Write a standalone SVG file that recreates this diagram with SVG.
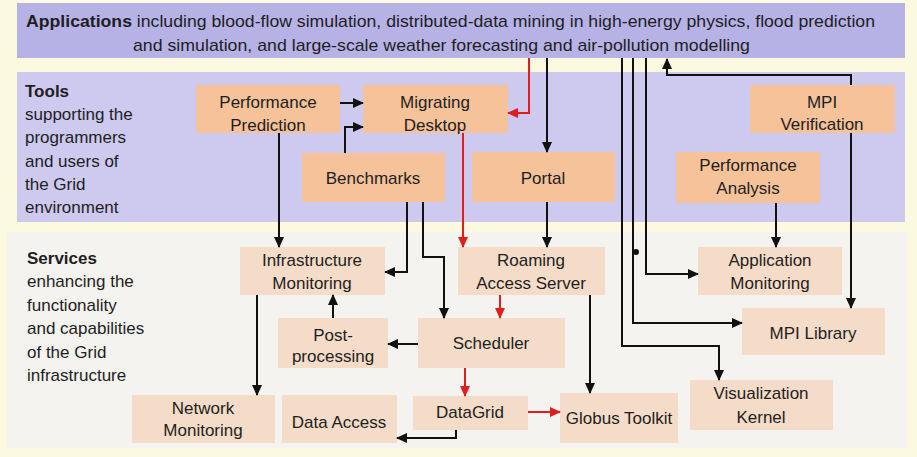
<svg xmlns="http://www.w3.org/2000/svg" width="917" height="457" viewBox="0 0 917 457">
<defs>
<style>
text{font-family:"Liberation Sans",Arial,sans-serif;font-size:17px;fill:#1e1e1e}
.c{text-anchor:middle}
.b{font-weight:bold}
.tn{fill:#f6c29a}
.sn{fill:#f5dcc8}
.k{fill:none;stroke:#111;stroke-width:2;marker-end:url(#ak)}
.r{fill:none;stroke:#e01e1e;stroke-width:2;marker-end:url(#ar)}
</style>
<marker id="ak" markerUnits="userSpaceOnUse" markerWidth="12" markerHeight="10" refX="10" refY="5" orient="auto"><path d="M0,0 L11,5 L0,10 z" fill="#111"/></marker>
<marker id="ar" markerUnits="userSpaceOnUse" markerWidth="12" markerHeight="10" refX="10" refY="5" orient="auto"><path d="M0,0 L11,5 L0,10 z" fill="#e01e1e"/></marker>
</defs>
<rect width="917" height="457" fill="#fbf9e0"/>
<rect x="7" y="232" width="900" height="216" fill="#f4f3f0"/>
<rect x="17" y="3" width="888" height="55" fill="#b7b2e6"/>
<rect x="17" y="72" width="888" height="150" fill="#cdc9ef"/>
<g id="band-text">
<text x="26" y="27" textLength="849" lengthAdjust="spacingAndGlyphs"><tspan class="b">Applications</tspan> including blood-flow simulation, distributed-data mining in high-energy physics, flood prediction</text>
<text x="133" y="51" textLength="617" lengthAdjust="spacingAndGlyphs">and simulation, and large-scale weather forecasting and air-pollution modelling</text>
<text x="25" y="97" class="b">Tools</text>
<text x="25" y="120">supporting the</text>
<text x="25" y="143">programmers</text>
<text x="25" y="167">and users of</text>
<text x="25" y="190">the Grid</text>
<text x="25" y="213">environment</text>
<text x="27" y="264" class="b">Services</text>
<text x="27" y="287">enhancing the</text>
<text x="27" y="311">functionality</text>
<text x="27" y="334">and capabilities</text>
<text x="27" y="358">of the Grid</text>
<text x="27" y="381">infrastructure</text>
</g>
<g id="performance-prediction"><rect class="tn" x="196" y="85" width="144" height="48"/><text class="c" x="268" y="108">Performance</text><text class="c" x="268" y="131">Prediction</text></g>
<g id="migrating-desktop"><rect class="tn" x="363" y="85" width="145" height="48"/><text class="c" x="435" y="108">Migrating</text><text class="c" x="435" y="131">Desktop</text></g>
<g id="benchmarks"><rect class="tn" x="302" y="153" width="143" height="49"/><text class="c" x="373" y="184">Benchmarks</text></g>
<g id="portal"><rect class="tn" x="472" y="152" width="143" height="50"/><text class="c" x="543" y="184">Portal</text></g>
<g id="mpi-verification"><rect class="tn" x="750" y="85" width="145" height="48"/><text class="c" x="822" y="108">MPI</text><text class="c" x="822" y="130">Verification</text></g>
<g id="performance-analysis"><rect class="tn" x="676" y="152" width="144" height="51"/><text class="c" x="748" y="171">Performance</text><text class="c" x="748" y="194">Analysis</text></g>
<g id="infrastructure-monitoring"><rect class="sn" x="240" y="247" width="145" height="48"/><text class="c" x="312" y="266">Infrastructure</text><text class="c" x="312" y="289">Monitoring</text></g>
<g id="roaming-access-server"><rect class="sn" x="458" y="247" width="147" height="48"/><text class="c" x="531" y="266">Roaming</text><text class="c" x="531" y="289">Access Server</text></g>
<g id="application-monitoring"><rect class="sn" x="698" y="247" width="144" height="48"/><text class="c" x="770" y="266">Application</text><text class="c" x="770" y="289">Monitoring</text></g>
<g id="post-processing"><rect class="sn" x="278" y="318" width="110" height="50"/><text class="c" x="333" y="341">Post-</text><text class="c" x="333" y="362">processing</text></g>
<g id="scheduler"><rect class="sn" x="418" y="318" width="147" height="50"/><text class="c" x="491" y="349">Scheduler</text></g>
<g id="mpi-library"><rect class="sn" x="742" y="308" width="143" height="47"/><text class="c" x="813" y="339">MPI Library</text></g>
<g id="network-monitoring"><rect class="sn" x="132" y="395" width="143" height="48"/><text class="c" x="203" y="414">Network</text><text class="c" x="203" y="436">Monitoring</text></g>
<g id="data-access"><rect class="sn" x="282" y="395" width="115" height="48"/><text class="c" x="339" y="428">Data Access</text></g>
<g id="datagrid"><rect class="sn" x="413" y="396" width="115" height="34"/><text class="c" x="470" y="418">DataGrid</text></g>
<g id="globus-toolkit"><rect class="sn" x="560" y="393" width="118" height="50"/><text class="c" x="619" y="424">Globus Toolkit</text></g>
<g id="visualization-kernel"><rect class="sn" x="690" y="380" width="143" height="50"/><text class="c" x="761" y="399">Visualization</text><text class="c" x="761" y="423">Kernel</text></g>
<g id="connectors">
<path class="r" d="M529,58 V113 H508"/>
<path class="k" d="M547,58 V152"/>
<path class="k" d="M547,202 V247"/>
<path class="r" d="M463,133 V247"/>
<path class="k" d="M646,58 V274 H698"/>
<path class="k" d="M633,58 V323 H742"/>
<path class="k" d="M622,58 V346 H719 V380"/>
<circle cx="636" cy="252" r="3" fill="#111"/>
<path class="k" d="M851,85 V75 H667 V59"/>
<path class="k" d="M851,133 V308"/>
<path class="k" d="M776,203 V247"/>
<path class="k" d="M340,103 H363"/>
<path class="k" d="M345,153 V127 H363"/>
<path class="k" d="M279,133 V247"/>
<path class="k" d="M407,202 V272 H385"/>
<path class="k" d="M423,202 V257 H444 V318"/>
<path class="k" d="M333,318 V295"/>
<path class="k" d="M418,344 H388"/>
<path class="r" d="M500,295 V318"/>
<path class="k" d="M590,295 V393"/>
<path class="r" d="M465,368 V396"/>
<path class="r" d="M528,412 H560"/>
<path class="k" d="M456,430 V438 H397"/>
<path class="k" d="M257,295 V395"/>
</g>
</svg>
